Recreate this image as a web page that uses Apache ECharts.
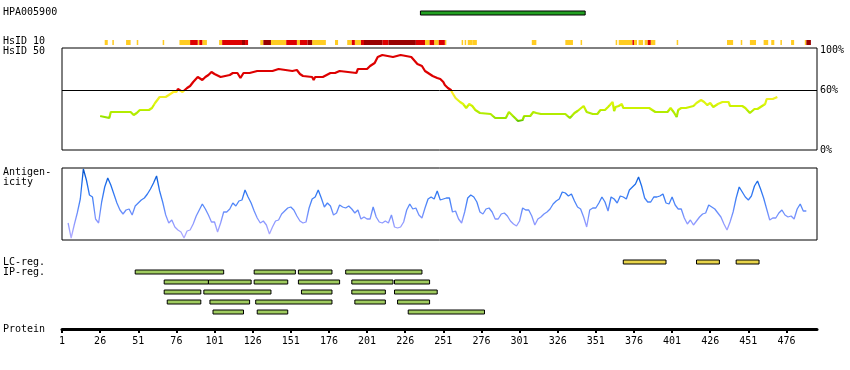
<!DOCTYPE html>
<html><head><meta charset="utf-8">
<script src="https://cdn.jsdelivr.net/npm/echarts@6/dist/echarts.min.js"></script>
<style>html,body{margin:0;padding:0;background:#fff}#c{width:850px;height:370px}</style>
</head><body><div id="c"></div>
<script>
// ---------------- data ----------------
const seqLength = 496;
const antigenName = 'HPA005900';
const antigenRange = [[236, 344]];
const yTickLabels = [0, 60, 100];

// HsID 10 blocks: [start, end) residues
const hsid10Yellow = [[29,31],[34,35],[43,46],[50,51],[67,68],[78,85],[90,91],[93,96],[104,106],[131,133],[138,148],[155,157],[165,174],[180,182],[188,191],[193,197],[239,242],[245,248],[252,253],[263,264],[265,266],[267,270],[270,273],[309,312],[331,336],[341,342],[364,365],[366,375],[376,378],[379,382],[383,385],[387,390],[404,405],[437,441],[446,447],[452,456],[461,464],[466,468],[472,473],[479,481],[488,489]];
const hsid10Red = [[85,90],[91,93],[106,119],[121,123],[148,155],[157,162],[191,193],[197,199],[211,215],[233,239],[242,245],[248,252],[375,376],[385,387]];
const hsid10DarkRed = [[119,121],[133,138],[162,165],[199,211],[215,233],[489,492]];

// HsID 50 line (residue, %)
const hsid50Pos = [26,26,32,33,39,40,42,46,48,50,52,58,60,62,65,69,70,72,74,76,77,80,81,83,85,87,90,93,95,97,99,101,105,106,111,113,116,118,120,124,125,129,130,139,140,143,144,152,153,155,157,159,165,166,167,172,173,177,180,183,184,194,195,201,203,206,208,211,212,218,219,223,224,230,231,234,237,239,241,244,247,249,251,252,254,256,257,259,262,264,266,268,270,272,275,282,285,292,294,295,298,300,303,304,308,310,312,315,327,328,331,334,337,339,343,345,349,352,354,357,359,362,363,363,364,366,368,369,374,381,382,383,386,387,390,398,400,401,402,404,405,407,408,410,411,415,417,420,422,424,426,428,431,434,438,439,447,449,452,455,456,457,460,461,462,463,467,468,470];
const hsid50Val = [34,32,32,38,38,40,38,38,35,37,40,40,42,47,53,53,55,56,58,58,61,58,60,62,64,68,73,70,73,75,78,76,73,75,75,77,77,72,77,77,79,79,81,79,81,81,79,79,81,80,76,74,73,70,73,73,75,77,77,79,77,77,81,81,84,87,93,95,93,93,95,95,93,93,91,86,84,79,77,74,72,71,68,65,62,60,57,52,48,46,42,46,44,40,37,36,32,32,38,37,32,29,30,34,34,38,37,36,36,38,36,32,37,39,44,38,36,36,40,40,43,48,46,39,43,44,46,42,42,42,40,42,42,40,38,38,42,40,38,33,40,42,40,42,44,44,47,50,48,45,47,43,46,48,48,44,44,42,37,41,42,41,44,42,46,51,51,52,53];

// Antigenicity (residue 5, 7, 9, ...)
const antigenicityStart = 5;
const antigenicityStep = 2;
const antigenicityVal = [17,2,15,27,41,71,60,45,43,21,17,38,53,62,55,46,37,30,26,30,31,25,34,37,40,42,46,51,57,64,49,38,25,17,20,13,10,8,2,9,10,16,24,30,36,31,25,18,18,8,17,28,28,31,37,34,39,40,50,43,37,29,22,17,19,15,6,13,19,20,26,29,32,33,30,24,19,17,18,32,41,43,50,42,33,37,34,25,27,35,33,32,34,31,27,30,21,23,21,21,33,23,18,17,19,17,25,13,12,13,18,30,36,31,32,25,22,32,41,
43,41,49,40,41,42,42,28,29,21,17,28,42,45,43,38,28,26,31,32,28,21,21,26,27,24,19,16,14,19,32,30,30,24,15,21,23,26,28,31,36,39,41,48,47,44,46,39,33,31,23,13,30,32,32,37,43,38,29,43,41,37,44,43,41,50,53,56,63,54,42,38,38,43,43,44,46,37,36,43,35,31,31,22,16,20,15,19,23,26,27,35,33,31,27,23,16,10,18,28,42,53,48,43,40,44,54,59,51,42,31,20,22,22,27,30,25,23,24,21,31,36,29,29];

// Regions [start, end)
const regionRows = ['LC', 'IP1', 'IP2', 'IP3', 'IP4', 'IP5'];
const lcRegions = [[369,397],[417,432],[443,458]];
const ipRegions1 = [[49,107],[127,154],[156,178],[187,237]];
const ipRegions2 = [[68,97],[97,125],[127,149],[156,183],[191,218],[219,242]];
const ipRegions3 = [[68,92],[94,138],[158,178],[191,213],[219,247]];
const ipRegions4 = [[70,92],[98,124],[128,178],[193,213],[221,242]];
const ipRegions5 = [[100,120],[129,149],[228,278]];

// ---------------- chart ----------------
const FONT = '"DejaVu Sans Mono", monospace';
const L = 62, W = 755;
const chart = echarts.init(document.getElementById('c'), null, {renderer: 'canvas'});

function blockRender(fill, stroke) {
  return function (params, api) {
    const a = api.coord([api.value(0), 1]);
    const b = api.coord([api.value(1), 0]);
    return {type: 'rect', shape: {x: a[0], y: a[1], width: b[0] - a[0], height: b[1] - a[1]},
      style: {fill: fill, stroke: stroke || null, lineWidth: stroke ? 1 : 0}};
  };
}
function regionRender(fill) {
  return function (params, api) {
    const a = api.coord([api.value(0), api.value(2)]);
    const b = api.coord([api.value(1), api.value(2)]);
    return {type: 'rect', shape: {x: a[0], y: a[1] - 2, width: b[0] - a[0], height: 4},
      style: {fill: fill, stroke: '#000', lineWidth: 1}};
  };
}

const grids = [
  {left: L, width: W, top: 11, height: 4},
  {left: L, width: W, top: 40, height: 5},
  {left: L, width: W, top: 48, height: 102, show: true, borderColor: '#000', borderWidth: 1},
  {left: L, width: W, top: 168, height: 72, show: true, borderColor: '#000', borderWidth: 1},
  {left: L, width: W, top: 257, height: 60},
  {left: L, width: W, top: 300, height: 29}
];
const xAxes = grids.map((g, i) => ({
  gridIndex: i, type: 'value', min: 1, max: seqLength,
  show: i === 5,
  interval: 25,
  splitLine: {show: false},
  axisLine: {show: i === 5, lineStyle: {color: '#000', width: 3}},
  axisTick: {show: i === 5, length: 4, lineStyle: {color: '#000', width: 2}},
  axisLabel: {show: i === 5, fontFamily: FONT, fontSize: 10, color: '#000', margin: 7, showMaxLabel: false}
}));
const yAxes = [
  {gridIndex: 0, type: 'value', min: 0, max: 1, show: false},
  {gridIndex: 1, type: 'value', min: 0, max: 1, show: false},
  {gridIndex: 2, type: 'value', min: 0, max: 102, interval: 20, position: 'right',
    axisLine: {show: false}, axisTick: {show: false}, splitLine: {show: false},
    axisLabel: {show: true, margin: 3, fontFamily: FONT, fontSize: 10, color: '#000', showMaxLabel: false,
      formatter: v => yTickLabels.indexOf(v) >= 0 ? v + '%' : ''}},
  {gridIndex: 3, type: 'value', min: 0, max: 72, show: false},
  {gridIndex: 4, type: 'category', data: regionRows, inverse: true, show: false},
  {gridIndex: 5, type: 'value', min: 0, max: 1, show: false}
];

const hsid50Data = hsid50Pos.map((p, i) => [p, hsid50Val[i]]);
const antigenicityData = antigenicityVal.map((v, i) => [antigenicityStart + i * antigenicityStep, v]);
const regionData = [];
[lcRegions, ipRegions1, ipRegions2, ipRegions3, ipRegions4, ipRegions5].forEach((rows, ri) => {
  rows.forEach(r => regionData.push([r[0], r[1], ri]));
});
const lcData = regionData.filter(d => d[2] === 0);
const ipData = regionData.filter(d => d[2] > 0);

const series = [
  {type: 'custom', xAxisIndex: 0, yAxisIndex: 0, renderItem: blockRender('#22a022', '#000'), data: antigenRange, encode: {x: [0, 1]}},
  {type: 'custom', xAxisIndex: 1, yAxisIndex: 1, renderItem: blockRender('#ffcc22'), data: hsid10Yellow, encode: {x: [0, 1]}},
  {type: 'custom', xAxisIndex: 1, yAxisIndex: 1, renderItem: blockRender('#dd0000'), data: hsid10Red, encode: {x: [0, 1]}},
  {type: 'custom', xAxisIndex: 1, yAxisIndex: 1, renderItem: blockRender('#990000'), data: hsid10DarkRed, encode: {x: [0, 1]}},
  {type: 'line', xAxisIndex: 2, yAxisIndex: 2, data: hsid50Data, symbol: 'none', lineStyle: {width: 2.2},
    markLine: {silent: true, symbol: 'none', label: {show: false}, lineStyle: {color: '#000', width: 1, type: 'solid'}, data: [{yAxis: 60}]}},
  {type: 'line', xAxisIndex: 3, yAxisIndex: 3, data: antigenicityData, symbol: 'none', lineStyle: {width: 1.3}},
  {type: 'custom', xAxisIndex: 4, yAxisIndex: 4, renderItem: regionRender('#e8d44a'), data: lcData, encode: {x: [0, 1], y: 2}},
  {type: 'custom', xAxisIndex: 4, yAxisIndex: 4, renderItem: regionRender('#9fcb5f'), data: ipData, encode: {x: [0, 1], y: 2}}
];

function label(text, x, y) {
  return {type: 'text', left: x, top: y - 6, style: {text: text, font: '10px ' + FONT, fill: '#000'}};
}

chart.setOption({
  animation: false,
  backgroundColor: '#fff',
  grid: grids,
  xAxis: xAxes,
  yAxis: yAxes,
  visualMap: [
    {type: 'piecewise', show: false, seriesIndex: 4, dimension: 1,
      pieces: [
        {gte: 60, color: '#dd0000'},
        {gte: 55, lt: 60, color: '#ffee22'},
        {gte: 50, lt: 55, color: '#eef022'},
        {gte: 45, lt: 50, color: '#ddf511'},
        {gte: 40, lt: 45, color: '#ccf200'},
        {gte: 34, lt: 40, color: '#b2ec00'},
        {gte: 30, lt: 34, color: '#99e400'},
        {lt: 30, color: '#66c800'}
      ]},
    {type: 'continuous', show: false, seriesIndex: 5, dimension: 1, min: 0, max: 72,
      inRange: {color: ['#b8b0ff', '#8c98ff', '#4f86f8', '#2070ee', '#0050c8']}}
  ],
  graphic: [
    label('HPA005900', 3, 13),
    label('HsID 10', 3, 42),
    label('HsID 50', 3, 52),
    label('Antigen-', 3, 173),
    label('icity', 3, 183),
    label('LC-reg.', 3, 263),
    label('IP-reg.', 3, 273),
    label('Protein', 3, 330)
  ],
  series: series
});
</script></body></html>
